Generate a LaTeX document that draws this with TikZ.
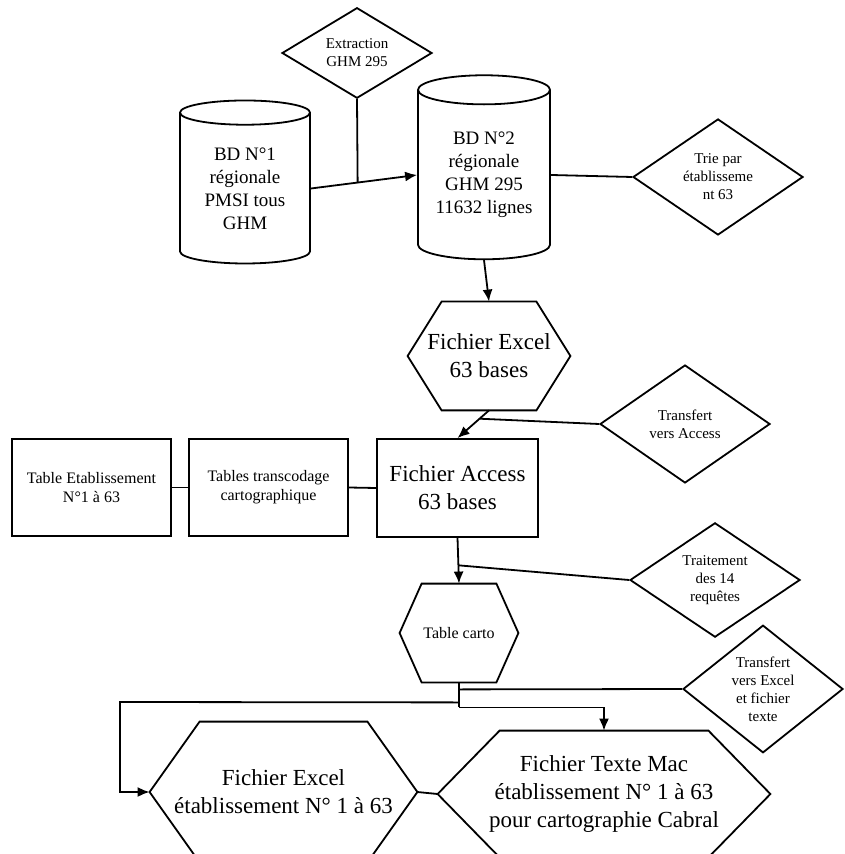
\documentclass[tikz,border=0pt]{standalone}
\usepackage{fontspec}
\setmainfont{Liberation Serif}
\usepackage{tikz}
\usetikzlibrary{shapes.geometric,calc,arrows.meta}

\tikzset{
  base/.style={draw,line width=0.9pt,align=center,inner sep=0pt},
  dbase/.style={base,cylinder,shape border rotate=90,aspect=0.3,
    font=\fontsize{9.5}{11.5}\selectfont},
  choix/.style={base,diamond,font=\fontsize{7.5}{9}\selectfont},
  boite/.style={base,rectangle,font=\fontsize{8}{9.5}\selectfont},
  hexa/.style={align=center,inner sep=0pt,rectangle},
  lien/.style={line width=0.9pt},
}
% hexagon outline around a named node: name, cut
\newcommand{\hexbord}[2]{%
  \draw[lien] ([xshift=#2]#1.north west) -- ([xshift=-#2]#1.north east)
    -- (#1.east) -- ([xshift=-#2]#1.south east)
    -- ([xshift=#2]#1.south west) -- (#1.west) -- cycle;}

\begin{document}
\begin{tikzpicture}[x=0.5pt,y=-0.5pt,>={Latex[length=6pt,width=5pt]}]
  \useasboundingbox (0,0) rectangle (844,854);
  % databases
  \node[dbase,minimum width=65pt,minimum height=81.5pt] (bd1) at (245,188.5)
    {BD N°1\\régionale\\PMSI tous\\GHM};
  \node[dbase,minimum width=66pt,minimum height=92pt] (bd2) at (484,175)
    {BD N°2\\régionale\\GHM 295\\11632 lignes};
  \node[choix,minimum width=75pt,minimum height=38.5pt] (ext) at (357,53)
    {Extraction\\GHM 295};
  \node[choix,minimum width=85pt,minimum height=54.5pt] (trie) at (718,177)
    {Trie par\\établisseme\\nt 63};
  % excel / access
  \node[hexa,minimum width=81pt,minimum height=54pt,
    font=\fontsize{11.5}{14}\selectfont] (xls) at (489,356)
    {Fichier Excel\\63 bases};
  \hexbord{xls}{17pt}
  \node[choix,minimum width=85pt,minimum height=59pt] (tva) at (685,424)
    {Transfert\\vers Access};
  \node[base,minimum width=80.5pt,minimum height=49pt,
    font=\fontsize{11.5}{14}\selectfont] (acc) at (457.5,488)
    {Fichier Access\\63 bases};
  \node[boite,minimum width=79.5pt,minimum height=48.5pt] (te) at (91.5,487.5)
    {Table Etablissement\\N°1 à 63};
  \node[boite,minimum width=79.5pt,minimum height=48.5pt] (tt) at (268.5,487.5)
    {Tables transcodage\\cartographique};
  \node[choix,minimum width=85pt,minimum height=53pt] (trq) at (715,580)
    {Traitement\\des 14\\requêtes};
  \node[hexa,minimum width=59pt,minimum height=49pt,
    font=\fontsize{8}{9.5}\selectfont] (carto) at (459,633) {Table carto};
  \hexbord{carto}{11pt}
  \node[choix,minimum width=80pt,minimum height=52pt] (tve) at (763,689)
    {Transfert\\vers Excel\\et fichier\\texte};
  % final files
  \node[hexa,minimum width=133.5pt,minimum height=70pt,
    font=\fontsize{11.5}{14}\selectfont] (exc) at (283.5,792)
    {Fichier Excel\\établissement N° 1 à 63};
  \hexbord{exc}{25pt}
  \node[hexa,minimum width=166pt,minimum height=63pt,
    font=\fontsize{11.5}{14}\selectfont] (txt) at (604,794)
    {Fichier Texte Mac\\établissement N° 1 à 63\\pour cartographie Cabral};
  \hexbord{txt}{31pt}

  % connectors
  \coordinate (j1) at ($(bd1.east)!0.44!(bd2.west)$);
  \draw[lien,->] (bd1.east) -- (bd2.west);
  \draw[lien] (ext.south) -- (j1);
  \draw[lien] (bd2.east) -- (trie.west);
  \draw[lien,->] (bd2.south) -- (xls.north);
  \coordinate (j2) at ($(xls.south)!0.3!(acc.north)$);
  \draw[lien,->] (xls.south) -- (acc.north);
  \draw[lien] (j2) -- (tva.west);
  \draw[lien] (te.east) -- (tt.west);
  \draw[lien] (tt.east) -- (acc.west);
  \coordinate (j3) at ($(acc.south)!0.6!(carto.north)$);
  \draw[lien,->] (acc.south) -- (carto.north);
  \draw[lien] (j3) -- (trq.west);
  \coordinate (j4) at ($(carto.south)+(0,7)$);
  \coordinate (j5) at ($(carto.south)+(0,20)$);
  \coordinate (j6) at ($(carto.south)+(0,25)$);
  \coordinate (coin) at (120,702);
  \draw[lien] (carto.south) -- (j6);
  \draw[lien] (j4) -- (tve.west);
  \draw[lien,->] (j5) -- (coin) |- (exc.west);
  \draw[lien,->] (j6) -| (txt.north);
  \draw[lien] (exc.east) -- (txt.west);
\end{tikzpicture}
\end{document}
